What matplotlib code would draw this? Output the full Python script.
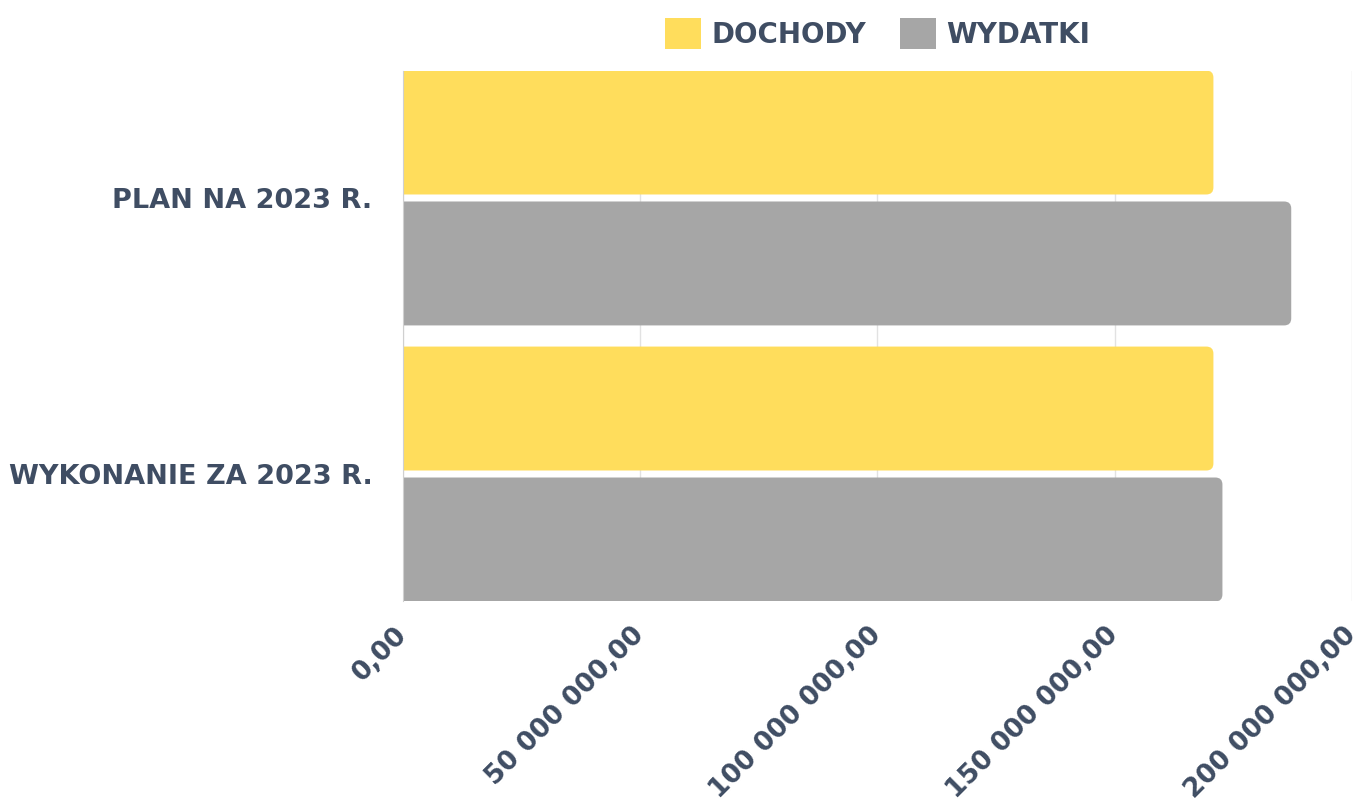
import matplotlib.pyplot as plt
from matplotlib.patches import FancyBboxPatch, Patch
from matplotlib.ticker import FuncFormatter

# dane
kategorie = ["PLAN NA 2023 R.", "WYKONANIE ZA 2023 R."]
dochody = [170.8e6, 170.8e6]
wydatki = [187.2e6, 172.7e6]
serie = ["DOCHODY", "WYDATKI"]

ZOLTY = "#FFDD5C"
SZARY = "#A6A6A6"
TEKST = "#3F4D63"

plt.rcParams['font.family'] = ['DejaVu Sans']

fig = plt.figure(figsize=(13.67, 8.07), dpi=100)
ax = fig.add_axes([0.2948, 0.2553, 0.6942, 0.6567])

ax.set_xlim(0, 200e6)
ax.set_ylim(1.460, -0.460)

h = 0.449
odstep = 0.0127
r_x = 1.5e6
aspekt = 0.0254 / 1.5e6


def slupek(y0, wartosc, kolor):
	""" rysuje poziomy slupek z zaokraglonymi rogami """
	p = FancyBboxPatch((-3 * r_x, y0), wartosc + 3 * r_x, h,
		boxstyle="round,pad=0,rounding_size={}".format(r_x),
		mutation_aspect=aspekt, facecolor=kolor, edgecolor="none", zorder=3)
	ax.add_patch(p)


for i in range(len(kategorie)):
	slupek(i - h - odstep, dochody[i], ZOLTY)
	slupek(i + odstep, wydatki[i], SZARY)

ax.set_yticks(range(len(kategorie)))
ax.set_yticklabels(kategorie, fontsize=19.5, fontweight="bold", color=TEKST)
ax.tick_params(axis="y", length=0, pad=22)

ax.set_xticks([0, 50e6, 100e6, 150e6, 200e6])
ax.xaxis.set_major_formatter(FuncFormatter(
	lambda v, p: "{:,.2f}".format(v).replace(",", " ").replace(".", ",")))
ax.tick_params(axis="x", length=0, pad=22)
for lab in ax.get_xticklabels():
	lab.set_rotation(45)
	lab.set_ha("right")
	lab.set_va("center")
	lab.set_rotation_mode("anchor")
	lab.set_fontsize(19)
	lab.set_fontweight("bold")
	lab.set_color(TEKST)

ax.grid(axis="x", color="#E2E2E2", linewidth=1, zorder=0)
for s in ["top", "right", "bottom"]:
	ax.spines[s].set_visible(False)
ax.spines["left"].set_color("#D0D0D0")
ax.spines["left"].set_zorder(4)

uchwyty = [Patch(facecolor=ZOLTY), Patch(facecolor=SZARY)]
leg = ax.legend(uchwyty, serie, loc="lower center", bbox_to_anchor=(0.5, 1.0),
	ncol=2, frameon=False, handlelength=1.3, handleheight=1.3,
	handletextpad=0.36, columnspacing=1.2, borderaxespad=0.4,
	prop={"size": 20, "weight": "bold"})
for t in leg.get_texts():
	t.set_color(TEKST)

fig.savefig("out.png", dpi=100)
